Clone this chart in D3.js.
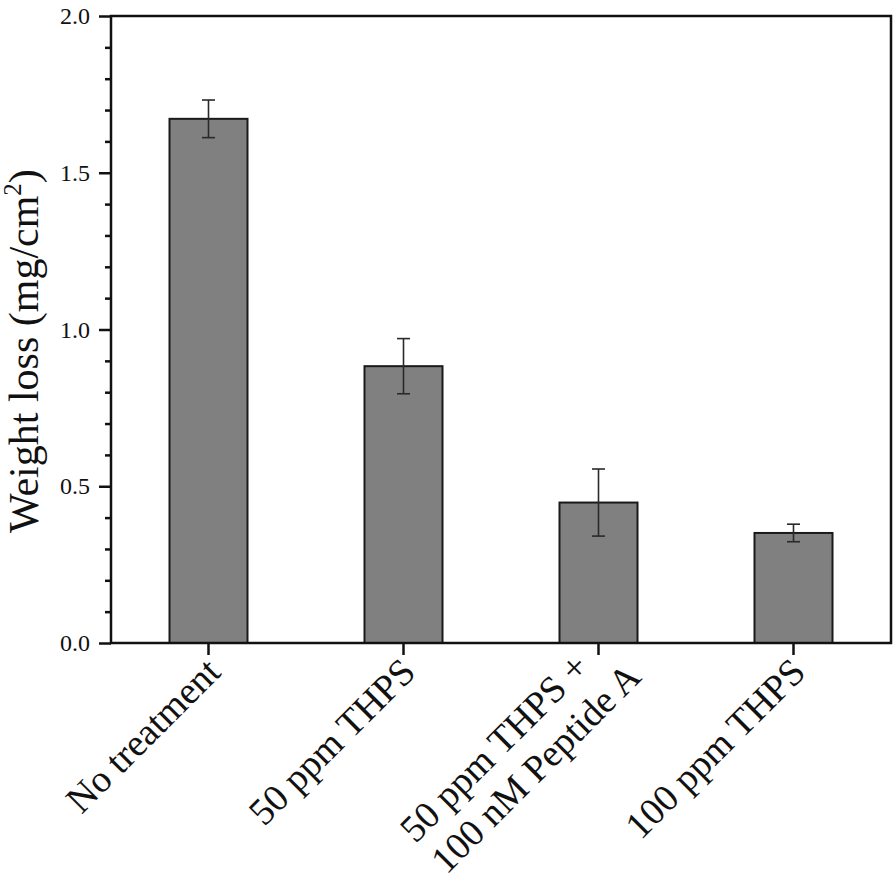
<!DOCTYPE html>
<html>
<head>
<meta charset="utf-8">
<script src="https://cdn.jsdelivr.net/npm/d3@7"></script>
<style>
  html, body { margin: 0; padding: 0; background: #fff; }
  svg { display: block; font-family: "Liberation Serif", "Times New Roman", serif; }
</style>
</head>
<body>
<script>
// treatments (multi-line labels split into arrays)
const categories = ["No treatment", "50 ppm THPS", "50 ppm THPS + 100 nM Peptide A", "100 ppm THPS"];
const labelLines = [["No treatment"], ["50 ppm THPS"], ["50 ppm THPS +", "100 nM Peptide A"], ["100 ppm THPS"]];
const weightLoss = [1.672, 0.883, 0.448, 0.351];
const errors = [0.060, 0.088, 0.107, 0.028];
const yMajorTicks = [0, 0.5, 1.0, 1.5, 2.0];
const yMinorTicks = [0.1, 0.2, 0.3, 0.4, 0.6, 0.7, 0.8, 0.9, 1.1, 1.2, 1.3, 1.4, 1.6, 1.7, 1.8, 1.9];

const width = 896;
const height = 880;
const margin = { top: 16, right: 5, bottom: 237, left: 111 };

const svg = d3.select("body").append("svg")
  .attr("width", width)
  .attr("height", height);

const x = d3.scaleBand()
  .domain(categories)
  .range([margin.left, width - margin.right])
  .paddingInner(0.6)
  .paddingOuter(0.3);

const y = d3.scaleLinear()
  .domain([0, 2])
  .range([height - margin.bottom, margin.top]);

const data = categories.map((c, i) => ({ cat: c, v: weightLoss[i], e: errors[i], lines: labelLines[i] }));

// bars
svg.append("g")
  .selectAll("rect")
  .data(data)
  .join("rect")
  .attr("x", d => x(d.cat))
  .attr("y", d => y(d.v))
  .attr("width", x.bandwidth())
  .attr("height", d => y(0) - y(d.v))
  .attr("fill", "#808080")
  .attr("stroke", "#1a1a1a")
  .attr("stroke-width", 2);

// error bars
const eb = svg.append("g")
  .attr("stroke", "#2a2a2a")
  .attr("stroke-width", 1.6)
  .selectAll("g")
  .data(data)
  .join("g");
eb.append("line")
  .attr("x1", d => x(d.cat) + x.bandwidth() / 2)
  .attr("x2", d => x(d.cat) + x.bandwidth() / 2)
  .attr("y1", d => y(d.v + d.e))
  .attr("y2", d => y(d.v - d.e));
eb.selectAll("line.cap")
  .data(d => [d.v + d.e, d.v - d.e].map(t => ({ cat: d.cat, t })))
  .join("line")
  .attr("class", "cap")
  .attr("x1", d => x(d.cat) + x.bandwidth() / 2 - 6.5)
  .attr("x2", d => x(d.cat) + x.bandwidth() / 2 + 6.5)
  .attr("y1", d => y(d.t))
  .attr("y2", d => y(d.t));

// frame
svg.append("rect")
  .attr("x", margin.left)
  .attr("y", margin.top)
  .attr("width", width - margin.right - margin.left)
  .attr("height", y(0) - margin.top)
  .attr("fill", "none")
  .attr("stroke", "#111")
  .attr("stroke-width", 2.5);

// y axis
const yAxis = svg.append("g")
  .attr("transform", `translate(${margin.left},0)`)
  .call(d3.axisLeft(y).tickValues(yMajorTicks).tickFormat(d3.format(".1f")).tickSize(12).tickPadding(9));
yAxis.select(".domain").remove();
yAxis.selectAll(".tick line").attr("stroke", "#111").attr("stroke-width", 2.5);
yAxis.selectAll(".tick text")
  .attr("font-family", "Liberation Serif")
  .attr("font-size", 24)
  .attr("fill", "#111");

const yMinor = svg.append("g")
  .attr("transform", `translate(${margin.left},0)`)
  .call(d3.axisLeft(y).tickValues(yMinorTicks).tickFormat("").tickSize(6));
yMinor.select(".domain").remove();
yMinor.selectAll(".tick line").attr("stroke", "#111").attr("stroke-width", 2.5);

// x axis ticks
const xAxis = svg.append("g")
  .attr("transform", `translate(0,${y(0)})`)
  .call(d3.axisBottom(x).tickSize(12).tickFormat(""));
xAxis.select(".domain").remove();
xAxis.selectAll(".tick line").attr("stroke", "#111").attr("stroke-width", 2.5);

// x labels rotated -45
const lineGap = 44;
const labels = svg.append("g")
  .selectAll("text")
  .data(data)
  .join("text")
  .attr("font-size", 38)
  .attr("fill", "#111")
  .attr("transform", d => `translate(${x(d.cat) + x.bandwidth() / 2 + 14},${y(0) + 31}) rotate(-45)`);

labels.each(function (d) {
  const t = d3.select(this);
  const multi = d.lines.length > 1;
  const spans = d.lines.map((ln, i) => t.append("tspan")
    .attr("text-anchor", "start")
    .attr("y", i * lineGap - (multi ? 19 : 0))
    .text(ln));
  const maxW = d3.max(spans, s => s.node().getComputedTextLength());
  const shift = multi ? 18 : 0;
  spans.forEach(s => s.attr("x", -maxW + shift));
});

// y title
const yTitle = svg.append("text")
  .attr("transform", "translate(38,351) rotate(-90)")
  .attr("text-anchor", "middle")
  .attr("font-size", 42)
  .attr("fill", "#111");
yTitle.append("tspan").text("Weight loss (mg/cm");
yTitle.append("tspan").attr("font-size", 25).attr("dy", -17).text("2");
yTitle.append("tspan").attr("dy", 17).text(")");
</script>
</body>
</html>
